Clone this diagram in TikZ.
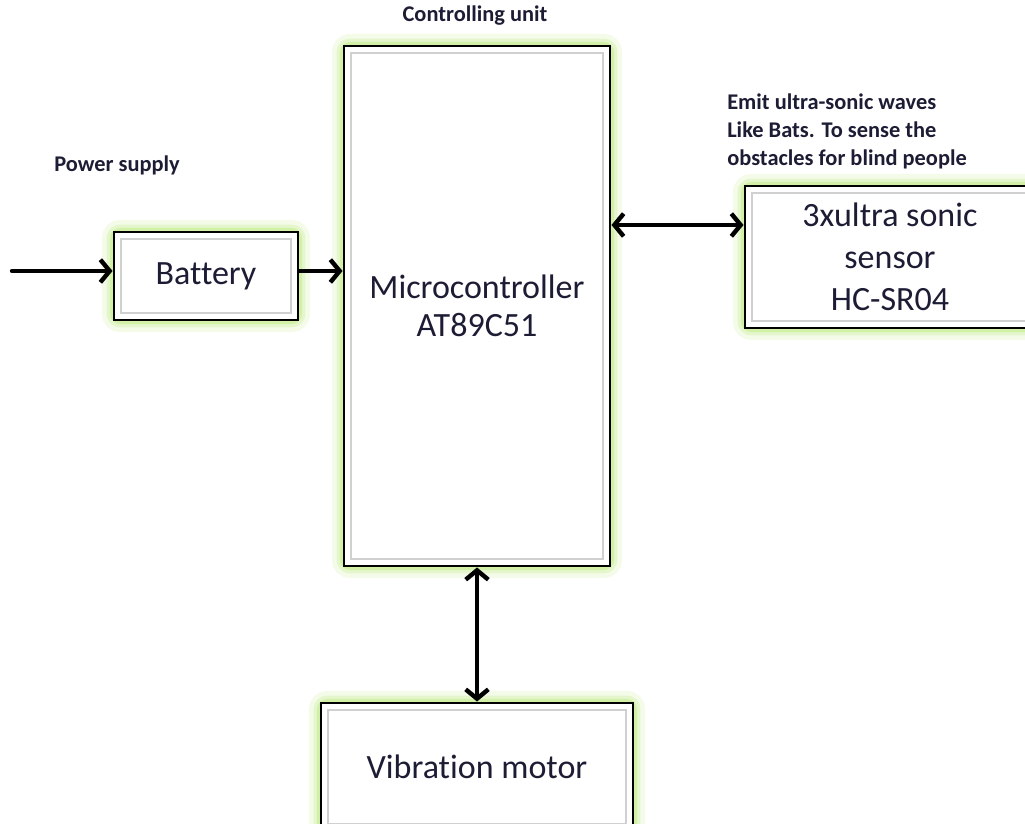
\documentclass[tikz,border=0pt]{standalone}
\usepackage{fontspec}
\setmainfont[Ligatures=NoCommon]{Carlito}
\usetikzlibrary{positioning,arrows.meta,backgrounds}
\definecolor{GlowGreen}{RGB}{210,240,168}
\definecolor{FrameGray}{RGB}{208,208,208}
\definecolor{InkBlue}{RGB}{28,28,52}
\tikzset{
  blk/.style={draw=black,fill=white,line width=2.2pt,inner sep=0pt,align=center,
    text=InkBlue,font=\fontsize{25.5}{28.5}\selectfont},
  note/.style={font=\bfseries\fontsize{16.8}{21}\selectfont,text=InkBlue,align=left,inner sep=0pt},
  link/.style={draw=black,line width=3.3pt,line cap=round,-{Straight Barb[length=7pt,width=17pt]}},
  both/.style={link,{Straight Barb[length=7pt,width=17pt]}-{Straight Barb[length=7pt,width=17pt]}},
  glow/.style={draw=GlowGreen,rounded corners=6pt},
  frame/.style={draw=FrameGray,line width=1.5pt},
}

\begin{document}
\begin{tikzpicture}[x=0.75pt,y=-0.75pt]
\useasboundingbox (0,0) rectangle (1025,824);
\node[blk,minimum width=138pt,minimum height=66pt] (bat) at (206,276) {Battery};
\node[blk,minimum width=199.5pt,minimum height=390pt] (mcu) at (477,306) {Microcontroller\\AT89C51};
\node[blk,minimum width=217.5pt,minimum height=106.5pt,font=\fontsize{25.5}{31.5}\selectfont] (sensor) at (890,257) {3xultra sonic\\sensor\\HC-SR04};
\node[blk,minimum width=234pt,minimum height=96pt] (motor) at (477,767) {Vibration motor};
\coordinate (src) at (12,271);
\node[note] (ctl) at (475,16) {Controlling unit};
\node[note] (pwr) at (117,165) {Power supply};
\node[note,anchor=west] (emit) at (727,131) {Emit ultra-sonic waves\\Like Bats. To sense the\\obstacles for blind people};
\begin{scope}[on background layer]
\foreach \n in {bat,mcu,sensor,motor} {
  \draw[glow,line width=16pt,opacity=.25] (\n.north west) rectangle (\n.south east);
  \draw[glow,line width=9pt,opacity=.45] (\n.north west) rectangle (\n.south east);
  \draw[glow,line width=4pt] (\n.north west) rectangle (\n.south east);
}
\end{scope}
\foreach \n in {bat,mcu,sensor,motor}
  \draw[frame] ([shift={(6.5pt,-6.5pt)}]\n.north west) rectangle ([shift={(-6.5pt,6.5pt)}]\n.south east);
\draw[link] (src) -- (src -| bat.west);
\draw[link] ([yshift=3.75pt]bat.east) -- ([yshift=3.75pt]bat.east -| mcu.west);
\draw[both] ([yshift=24pt]sensor.west -| mcu.east) -- ([yshift=24pt]sensor.west);
\draw[both] (mcu.south) -- (motor.north);
\end{tikzpicture}
\end{document}
